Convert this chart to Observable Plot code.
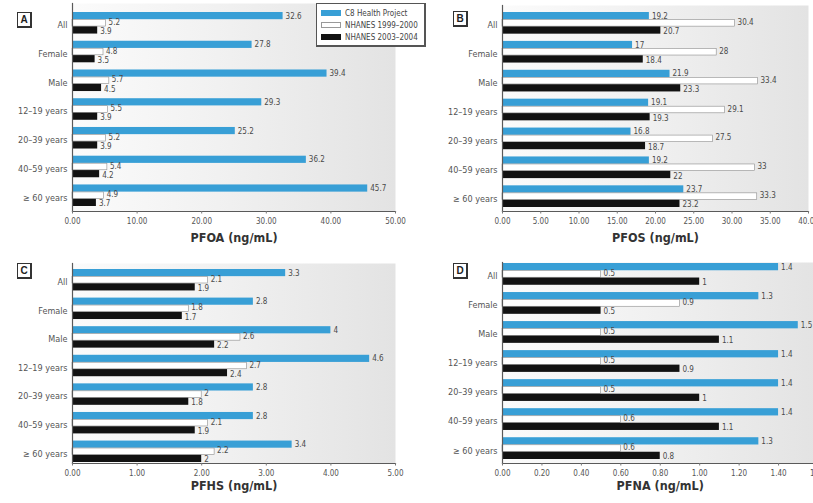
<!DOCTYPE html>
<html><head><meta charset="utf-8">
<script src="https://cdn.jsdelivr.net/npm/d3@7"></script>
<script src="https://cdn.jsdelivr.net/npm/@observablehq/plot@0.6"></script>
<style>
html,body{margin:0;padding:0;background:#fff;}
body{width:813px;height:503px;overflow:hidden;position:relative;font-family:"Liberation Sans Narrow","DejaVu Sans Condensed","Liberation Sans",sans-serif;}
.panel{position:absolute;}
.panel svg{max-width:none !important;}
.letter{position:absolute;box-sizing:border-box;width:15px;height:16px;border:1px solid #333;border-right-width:2px;border-bottom-width:2px;background:#fff;font:bold 10px "Liberation Sans",sans-serif;text-align:center;line-height:13px;color:#222;z-index:3;}
.legend{position:absolute;left:316px;top:3px;width:110px;height:44px;box-sizing:border-box;border:1px solid #555;border-right-width:2px;border-bottom-width:2px;background:#fff;z-index:4;font-size:8px;color:#444;}
.legend .row{position:absolute;left:4px;height:8px;display:flex;align-items:center;white-space:nowrap;}
.legend .sw{width:20px;height:6px;box-sizing:border-box;margin-right:4px;}
</style></head><body>
<script>
// ---------- data ----------
const categories = ["All", "Female", "Male", "12–19 years", "20–39 years", "40–59 years", "≥ 60 years"];
const seriesNames = ["C8 Health Project", "NHANES 1999–2000", "NHANES 2003–2004"];

const pfoaC8  = [32.6, 27.8, 39.4, 29.3, 25.2, 36.2, 45.7];
const pfoaN99 = [5.2, 4.8, 5.7, 5.5, 5.2, 5.4, 4.9];
const pfoaN03 = [3.9, 3.5, 4.5, 3.9, 3.9, 4.2, 3.7];

const pfosC8  = [19.2, 17, 21.9, 19.1, 16.8, 19.2, 23.7];
const pfosN99 = [30.4, 28, 33.4, 29.1, 27.5, 33, 33.3];
const pfosN03 = [20.7, 18.4, 23.3, 19.3, 18.7, 22, 23.2];

const pfhsC8  = [3.3, 2.8, 4, 4.6, 2.8, 2.8, 3.4];
const pfhsN99 = [2.1, 1.8, 2.6, 2.7, 2, 2.1, 2.2];
const pfhsN03 = [1.9, 1.7, 2.2, 2.4, 1.8, 1.9, 2];

const pfnaC8  = [1.4, 1.3, 1.5, 1.4, 1.4, 1.4, 1.3];
const pfnaN99 = [0.5, 0.9, 0.5, 0.5, 0.5, 0.6, 0.6];
const pfnaN03 = [1, 0.5, 1.1, 0.9, 1, 1.1, 0.8];

const pfoaTicks = [0, 10, 20, 30, 40, 50];
const pfosTicks = [0, 5, 10, 15, 20, 25, 30, 35, 40];
const pfhsTicks = [0, 1, 2, 3, 4, 5];
const pfnaTicks = [0, 0.2, 0.4, 0.6, 0.8, 1.0, 1.2, 1.4, 1.6];

const axisTitles = ["PFOA (ng/mL)", "PFOS (ng/mL)", "PFHS (ng/mL)", "PFNA (ng/mL)"];
const panelLetters = ["A", "B", "C", "D"];

// ---------- styling ----------
const colors = {c8: "#389fd6", n99: "#ffffff", n03: "#121212"};
const FONT = '"Liberation Sans Narrow","DejaVu Sans Condensed","Liberation Sans",sans-serif';

function makePanel(cfg) {
  const rows = categories.map((c, i) => ({category: c, c8: cfg.c8[i], n99: cfg.n99[i], n03: cfg.n03[i]}));
  const H = cfg.height;
  const rangeTop = cfg.rangeTop, rangeBottom = cfg.rangeBottom;
  const bandSpan = cfg.bandBottom - cfg.bandTop;
  const pin = 0.25;
  const step = bandSpan / (categories.length - pin);
  const outer = (rangeBottom - rangeTop) - bandSpan;
  const pout = outer / (2 * step);
  const align = (cfg.bandTop - rangeTop) / outer;
  const h = step * (1 - pin) / 3;
  const gid = "bg" + cfg.letter;

  const svg = Plot.plot({
    width: cfg.width,
    height: H,
    marginLeft: cfg.marginLeft,
    marginRight: cfg.marginRight,
    marginTop: rangeTop,
    marginBottom: H - rangeBottom,
    style: {fontFamily: FONT, background: "transparent", overflow: "visible", maxWidth: "none"},
    x: {domain: cfg.domain, label: null},
    y: {domain: categories, paddingInner: pin, paddingOuter: pout, align, label: null, round: false},
    marks: [
      Plot.frame({fill: `url(#${gid})`, stroke: null}),
      Plot.barX(rows, {x: "c8", y: "category", fill: colors.c8, insetBottom: 2 * h}),
      Plot.barX(rows, {x: "n99", y: "category", fill: colors.n99, stroke: "#8c8c8c", strokeWidth: 0.6, insetTop: h + 0.3, insetBottom: h + 0.3}),
      Plot.barX(rows, {x: "n03", y: "category", fill: colors.n03, insetTop: 2 * h}),
      Plot.text(rows, {x: "c8", y: "category", text: d => String(d.c8), dx: 2.5, dy: -h, textAnchor: "start", fontSize: 8, fill: "#4a4a4a"}),
      Plot.text(rows, {x: "n99", y: "category", text: d => String(d.n99), dx: 2.5, dy: -1, textAnchor: "start", fontSize: 8, fill: "#4a4a4a"}),
      Plot.text(rows, {x: "n03", y: "category", text: d => String(d.n03), dx: 2.5, dy: h + 1, textAnchor: "start", fontSize: 8, fill: "#4a4a4a"}),
      Plot.frame({anchor: "left", stroke: "#5a5a5a", strokeWidth: 1.2}),
      Plot.frame({anchor: "bottom", stroke: "#5a5a5a", strokeWidth: 1.2}),
      Plot.axisY({tickSize: 0, tickPadding: 5, fontSize: 9, fill: "#555", dy: 2, label: null}),
      Plot.axisX(cfg.ticks, {tickFormat: d => d.toFixed(2), tickSize: 2.5, tickPadding: 4, fontSize: 8, fill: "#555", stroke: "#777", label: null}),
      Plot.text([cfg.title], {frameAnchor: "bottom", text: d => d, dy: cfg.titleDy, fontSize: 12.5, fontWeight: "bold", fill: "#333"})
    ]
  });

  const ns = "http://www.w3.org/2000/svg";
  const defs = document.createElementNS(ns, "defs");
  defs.innerHTML = `<linearGradient id="${gid}" x1="0" x2="1" y1="0" y2="0">
      <stop offset="0" stop-color="#fbfbfb"/><stop offset="0.45" stop-color="#f1f1f1"/><stop offset="1" stop-color="#e3e3e3"/></linearGradient>`;
  svg.insertBefore(defs, svg.firstChild);

  const div = document.createElement("div");
  div.className = "panel";
  div.style.left = cfg.left + "px";
  div.style.top = cfg.top + "px";
  div.style.width = cfg.width + "px";
  div.appendChild(svg);
  document.body.appendChild(div);

  const L = document.createElement("div");
  L.className = "letter";
  L.textContent = cfg.letter;
  L.style.left = cfg.letterX + "px";
  L.style.top = cfg.letterY + "px";
  document.body.appendChild(L);
}

makePanel({letter: panelLetters[0], left: 0, top: 0, width: 406, height: 250, marginLeft: 72, marginRight: 11,
  rangeTop: 3, rangeBottom: 211, bandTop: 12, bandBottom: 206, domain: [0, 50], ticks: pfoaTicks,
  c8: pfoaC8, n99: pfoaN99, n03: pfoaN03, title: axisTitles[0], titleDy: 30, letterX: 17, letterY: 12});

makePanel({letter: panelLetters[1], left: 406, top: 0, width: 407, height: 250, marginLeft: 96, marginRight: 5,
  rangeTop: 5, rangeBottom: 211, bandTop: 12, bandBottom: 207, domain: [0, 40], ticks: pfosTicks,
  c8: pfosC8, n99: pfosN99, n03: pfosN03, title: axisTitles[1], titleDy: 30, letterX: 453, letterY: 11});

makePanel({letter: panelLetters[2], left: 0, top: 250, width: 406, height: 253, marginLeft: 72, marginRight: 11,
  rangeTop: 13, rangeBottom: 213, bandTop: 19, bandBottom: 212, domain: [0, 5], ticks: pfhsTicks,
  c8: pfhsC8, n99: pfhsN99, n03: pfhsN03, title: axisTitles[2], titleDy: 26, letterX: 17, letterY: 263});

makePanel({letter: panelLetters[3], left: 406, top: 250, width: 420, height: 253, marginLeft: 96, marginRight: 8.5,
  rangeTop: 12, rangeBottom: 213, bandTop: 13, bandBottom: 209, domain: [0, 1.6], ticks: pfnaTicks,
  c8: pfnaC8, n99: pfnaN99, n03: pfnaN03, title: axisTitles[3], titleDy: 26, letterX: 453, letterY: 263});

// legend
const legend = document.createElement("div");
legend.className = "legend";
const swStyles = [
  `background:${colors.c8};`,
  `background:#fff;border:1px solid #999;`,
  `background:${colors.n03};`
];
seriesNames.forEach((name, i) => {
  const r = document.createElement("div");
  r.className = "row";
  r.style.top = (5 + i * 12) + "px";
  r.innerHTML = `<div class="sw" style="${swStyles[i]}"></div><span>${name}</span>`;
  legend.appendChild(r);
});
document.body.appendChild(legend);
</script>
</body></html>
